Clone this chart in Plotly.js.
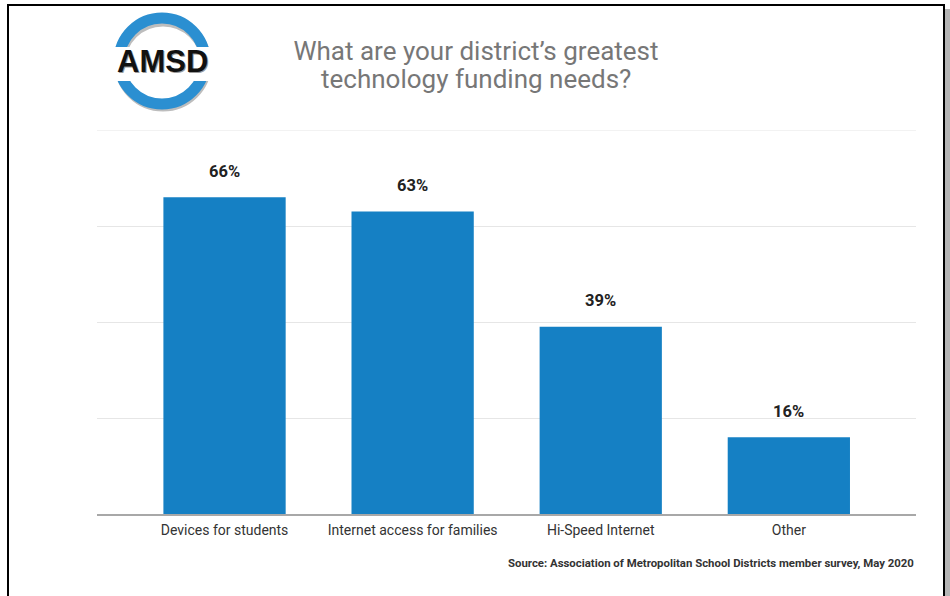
<!DOCTYPE html>
<html>
<head>
<meta charset="utf-8">
<script src="https://cdn.plot.ly/plotly-3.0.1.min.js"></script>
<style>
html,body{margin:0;padding:0;background:#fff;}
#chart{width:950px;height:596px;}
</style>
</head>
<body>
<div id="chart"></div>
<script>
// ---- data ----
var categories = ["Devices for students", "Internet access for families", "Hi-Speed Internet", "Other"];
var percentValues = [66, 63, 39, 16];
var valueLabels = ["66%", "63%", "39%", "16%"];
var yTicks = [0, 20, 40, 60, 80];
var titleLines = ["What are your district\u2019s greatest", "technology funding needs?"];
var sourceText = "Source: Association of Metropolitan School Districts member survey, May 2020";
var logoText = "AMSD";

// ---- layout helpers (pixel -> paper) ----
var W = 950, H = 596;
var M = {l: 97, r: 34, t: 130, b: 82};
var PW = W - M.l - M.r, PH = H - M.t - M.b;
function px(x) { return (x - M.l) / PW; }
function py(y) { return (H - M.b - y) / PH; }

var blue = "#1580c4";
var titleFont = {family: "Roboto", size: 26, color: "#777777"};

var trace = {
  type: "bar",
  x: categories,
  y: percentValues,
  marker: {color: blue},
  hoverinfo: "none"
};

var annotations = categories.map(function (c, i) {
  return {
    x: c, y: percentValues[i], xref: "x", yref: "y",
    text: valueLabels[i], showarrow: false, yshift: 26,
    font: {family: "Roboto", size: 16.5, color: "#222222", weight: 700}
  };
});

// second line of the title (tighter line spacing than Plotly's default)
annotations.push({
  xref: "paper", yref: "paper", x: px(476), y: py(79), xanchor: "center", yanchor: "middle",
  text: titleLines[1], showarrow: false, font: titleFont
});

annotations.push({
  xref: "paper", yref: "paper", x: px(916), y: py(563), xanchor: "right", yanchor: "middle",
  text: sourceText, showarrow: false,
  font: {family: "Roboto", size: 11.4, color: "#333333", weight: 700}
});

// logo
var lc = {x: 162, y: 61};
annotations.push({
  xref: "paper", yref: "paper", x: px(lc.x + 1.5), y: py(lc.y + 1.5), xanchor: "center", yanchor: "middle",
  text: "<b>" + logoText + "</b>", showarrow: false,
  font: {family: "Liberation Sans", size: 31, color: "#9a9a9a"}
});
annotations.push({
  xref: "paper", yref: "paper", x: px(lc.x), y: py(lc.y), xanchor: "center", yanchor: "middle",
  text: "<b>" + logoText + "</b>", showarrow: false,
  font: {family: "Liberation Sans", size: 31, color: "#111111"}
});

var shapes = [
  // top gridline (at the 80 tick, on the plot edge)
  {type: "line", xref: "paper", yref: "y", x0: 0, x1: 1, y0: yTicks[yTicks.length - 1], y1: yTicks[yTicks.length - 1],
   line: {color: "#e6e6e6", width: 1}, layer: "below"},
  // logo ring shadow
  {type: "circle", xref: "paper", yref: "paper", x0: px(lc.x - 42), x1: px(lc.x + 44), y0: py(lc.y - 40), y1: py(lc.y + 45),
   line: {color: "#bdbdbd", width: 11}, layer: "above"},
  // logo ring
  {type: "circle", xref: "paper", yref: "paper", x0: px(lc.x - 43), x1: px(lc.x + 43), y0: py(lc.y - 43), y1: py(lc.y + 43),
   line: {color: "#2b8fd1", width: 11}, layer: "above"},
  // white band cutting the ring
  {type: "rect", xref: "paper", yref: "paper", x0: px(lc.x - 56), x1: px(lc.x + 56), y0: py(lc.y - 14), y1: py(lc.y + 20),
   fillcolor: "#ffffff", line: {width: 0}, layer: "above"},
  // frame
  {type: "line", xref: "paper", yref: "paper", x0: px(8), x1: px(8), y0: py(4), y1: py(600), line: {color: "#000", width: 2}, layer: "above"},
  {type: "line", xref: "paper", yref: "paper", x0: px(7), x1: px(944.5), y0: py(5), y1: py(5), line: {color: "#000", width: 2}, layer: "above"},
  {type: "line", xref: "paper", yref: "paper", x0: px(944), x1: px(944), y0: py(4), y1: py(600), line: {color: "#000", width: 2}, layer: "above"},
  {type: "rect", xref: "paper", yref: "paper", x0: px(945), x1: px(951), y0: py(9), y1: py(600), fillcolor: "#b5b5b5", line: {width: 0}, layer: "above"}
];

var layout = {
  width: W, height: H,
  margin: M,
  paper_bgcolor: "#ffffff",
  plot_bgcolor: "#ffffff",
  showlegend: false,
  bargap: 0.35,
  title: {
    text: titleLines[0],
    font: titleFont,
    x: 476 / W, xref: "container", xanchor: "center",
    y: 1 - 51 / H, yref: "container", yanchor: "middle"
  },
  xaxis: {
    type: "category",
    range: [-0.678, 3.676],
    showgrid: false, zeroline: false,
    showline: true, linecolor: "#a8a8a8", linewidth: 2,
    ticks: "", ticklabelstandoff: 2,
    tickfont: {family: "Roboto", size: 14, color: "#333333"},
    fixedrange: true
  },
  yaxis: {
    range: [0, 80], tickvals: yTicks, showticklabels: false,
    showgrid: true, gridcolor: "#e6e6e6", gridwidth: 1,
    zeroline: false, showline: false, ticks: "", fixedrange: true
  },
  annotations: annotations,
  shapes: shapes
};

Plotly.newPlot("chart", [trace], layout, {displayModeBar: false, staticPlot: true});
</script>
</body>
</html>
